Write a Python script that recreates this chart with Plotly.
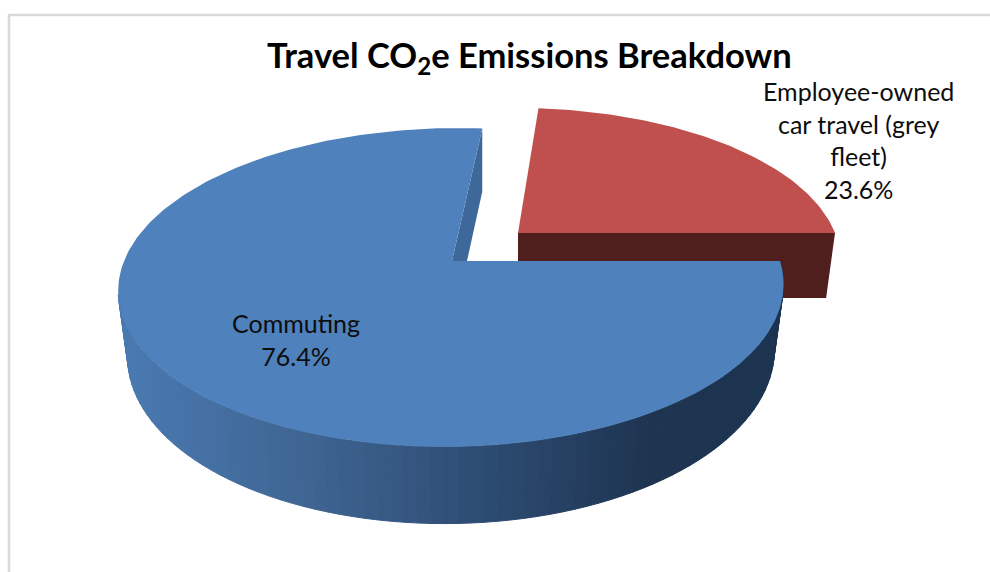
import numpy as np
import plotly.graph_objects as go

categories = ["Commuting", "Employee-owned<br>car travel (grey<br>fleet)"]
values = [76.4, 23.6]
title_text = "Travel CO<sub>2</sub>e Emissions Breakdown"

BLUE, RED = "#4f81bd", "#c0504d"
DARK_RED, SLIVER = "#4f1f1e", "#3d6899"
K = 0.166
ramp_x = [119, 300, 500, 650, 785]
ramp_c = [(74, 122, 178), (64, 102, 148), (44, 74, 112), (31, 53, 82), (28, 52, 80)]


def project(deg, v0, A, B, S, D, bottom=False):
    t = np.radians(deg)
    u, v = np.cos(t), np.sin(t)
    w = 1 + K * v
    x = (A * u + S * v) / w
    y = -B * v / w
    if bottom:
        x = x * 0.972
        y = y + D / w
    return v0[0] + x, v0[1] + y


def poly(fig, xs, ys, color, lw=0.0):
    fig.add_trace(go.Scatter(x=xs, y=ys, mode="lines", fill="toself", fillcolor=color,
                             line=dict(color=color, width=lw), hoverinfo="skip", showlegend=False))


fig = go.Figure()
split = values[1] / sum(values) * 360

blue = dict(v0=(452, 261), A=328, B=155, S=6.5, D=64)
red = dict(v0=(518, 233), A=317, B=146, S=-4, D=65)

# Red slice: inner front face, then top
x0, y0 = project(0, **red)
x1, y1 = project(0, bottom=True, **red)
poly(fig, [red["v0"][0], x0, x1, red["v0"][0]], [red["v0"][1], y0, y1, red["v0"][1] + red["D"]], DARK_RED)
a = np.linspace(0, split, 90)
rx, ry = project(a, **red)
poly(fig, np.r_[red["v0"][0], rx, red["v0"][0]], np.r_[red["v0"][1], ry, red["v0"][1]], RED)

# Blue slice: inner face beside the wedge
tx, ty = project(split, **blue)
poly(fig, [blue["v0"][0], tx, tx, blue["v0"][0] + 15, blue["v0"][0]],
     [blue["v0"][1], ty, ty + 63, blue["v0"][1], blue["v0"][1]], SLIVER)

# Blue slice: outer wall as shaded strips
edges = np.linspace(192, 360, 85)
for s, e in zip(edges[:-1], edges[1:]):
    seg = np.linspace(s, e, 3)
    ax, ay = project(seg, **blue)
    cx, cy = project(seg[::-1], bottom=True, **blue)
    mid = ax.mean()
    col = [int(np.interp(mid, ramp_x, [c[i] for c in ramp_c])) for i in range(3)]
    color = "rgb(%d,%d,%d)" % tuple(col)
    poly(fig, np.r_[ax, cx, ax[0]], np.r_[ay, cy, ay[0]], color, 1.0)

# Blue slice: top
a = np.linspace(split, 360, 240)
bx, by = project(a, **blue)
poly(fig, np.r_[blue["v0"][0], bx, blue["v0"][0]], np.r_[blue["v0"][1], by, blue["v0"][1]], BLUE)

annotations = [
    dict(x=529, y=57, text="<b>%s</b>" % title_text, font=dict(size=34.5, family="Lato", color="#000000")),
    dict(x=296, y=339, text="%s<br>%.1f%%" % (categories[0], values[0]), font=dict(size=25, family="Lato", color="#0d0d0d")),
    dict(x=858, y=140, text="%s<br>%.1f%%" % (categories[1], values[1]), font=dict(size=25, family="Lato", color="#0d0d0d")),
]
for an in annotations:
    an.update(xref="x", yref="y", showarrow=False, xanchor="center", yanchor="middle", align="center")

frame_color = "#d9d9d9"
fig.update_layout(
    width=990, height=572, margin=dict(l=0, r=0, t=0, b=0, pad=0),
    paper_bgcolor="white", plot_bgcolor="white", showlegend=False,
    xaxis=dict(range=[0, 990], visible=False, fixedrange=True),
    yaxis=dict(range=[572, 0], visible=False, fixedrange=True),
    annotations=annotations,
    shapes=[
        dict(type="line", xref="x", yref="y", x0=9, y0=15, x1=990, y1=15, line=dict(color=frame_color, width=2.5)),
        dict(type="line", xref="x", yref="y", x0=9, y0=14, x1=9, y1=572, line=dict(color=frame_color, width=2.5)),
    ],
)
fig.write_html("out.html", config=dict(displayModeBar=False),
               post_script="document.body.style.margin='0';document.documentElement.style.overflow='hidden';")
